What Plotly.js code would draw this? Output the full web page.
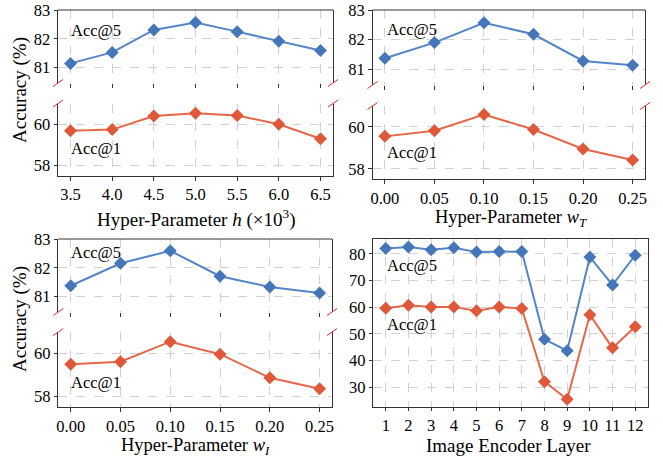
<!DOCTYPE html>
<html>
<head>
<meta charset="utf-8">
<script src="https://cdn.plot.ly/plotly-3.0.1.min.js"></script>
<style>html,body{margin:0;padding:0;background:#fff;}#chart{width:663px;height:457px;}</style>
</head>
<body>
<div id="chart"></div>
<script>
// ---- data ----
const hVals = [3.5, 4.0, 4.5, 5.0, 5.5, 6.0, 6.5];
const hAcc5 = [81.15, 81.53, 82.31, 82.57, 82.25, 81.92, 81.60];
const hAcc1 = [59.68, 59.74, 60.40, 60.53, 60.42, 60.00, 59.30];

const wVals = [0.00, 0.05, 0.10, 0.15, 0.20, 0.25];
const wTAcc5 = [81.37, 81.90, 82.57, 82.18, 81.28, 81.14];
const wTAcc1 = [59.55, 59.82, 60.59, 59.88, 58.95, 58.42];
const wIAcc5 = [81.38, 82.16, 82.59, 81.71, 81.34, 81.13];
const wIAcc1 = [59.50, 59.62, 60.55, 59.97, 58.87, 58.36];

const layers = [1, 2, 3, 4, 5, 6, 7, 8, 9, 10, 11, 12];
const layerAcc5 = [82.0, 82.6, 81.6, 82.3, 80.75, 80.9, 80.9, 47.9, 43.65, 78.8, 68.35, 79.5];
const layerAcc1 = [59.6, 60.7, 60.1, 60.1, 58.6, 60.1, 59.45, 32.0, 25.4, 57.1, 44.7, 52.6];

const hTicks = [3.5, 4.0, 4.5, 5.0, 5.5, 6.0, 6.5];
const wTicks = [0.00, 0.05, 0.10, 0.15, 0.20, 0.25];
const acc5Ticks = [81, 82, 83];
const acc1Ticks = [58, 60];
const layerYTicks = [30, 40, 50, 60, 70, 80];

// ---- style ----
const W = 663, H = 457;
const FONT = 'Liberation Serif';
const BLUE_L = '#5585c6', BLUE_M = '#4676ba';
const RED_L = '#e5674a', RED_M = '#e0583a';
const SPINE = '#333333';
function xd(a, b) { return [a / W, b / W]; }
function yd(top, bot) { return [1 - bot / H, 1 - top / H]; }

function baseAxis(extra) {
  return Object.assign({
    tickfont: {family: FONT, size: 16.5, color: '#000'},
    showgrid: true, gridcolor: '#d2d2d2', griddash: 'dash', gridwidth: 1,
    zeroline: false, ticks: 'outside', ticklen: 3.5, tickwidth: 1, tickcolor: SPINE,
    linecolor: SPINE, linewidth: 1, fixedrange: true
  }, extra);
}

const panels = [
  {xpx: [58, 333], top: [10, 83], bot: [103.5, 176], xs: hVals, a5: hAcc5, a1: hAcc1, ticks: hTicks, range: [3.35, 6.65], fmt: '.1f'},
  {xpx: [372.5, 645], top: [10, 85], bot: [106, 179.3], xs: wVals, a5: wTAcc5, a1: wTAcc1, ticks: wTicks, range: [-0.0125, 0.2625], fmt: '.2f'},
  {xpx: [58.3, 332], top: [239, 312], bot: [332, 407.3], xs: wVals, a5: wIAcc5, a1: wIAcc1, ticks: wTicks, range: [-0.0125, 0.2625], fmt: '.2f'}
];

const traces = [];
const layout = {
  width: W, height: H, margin: {l: 0, r: 0, t: 0, b: 0},
  paper_bgcolor: '#fff', plot_bgcolor: '#fff', showlegend: false,
  font: {family: FONT, color: '#000'},
  shapes: [], annotations: []
};

function trace(x, y, xa, ya, lc, mc) {
  return {x: x, y: y, xaxis: xa, yaxis: ya, type: 'scatter', mode: 'lines+markers',
    line: {color: lc, width: 2}, marker: {symbol: 'diamond', size: 10, color: mc},
    cliponaxis: false, hoverinfo: 'skip'};
}

panels.forEach((p, i) => {
  const nT = 2 * i + 1, nB = 2 * i + 2;
  const xT = 'x' + (nT === 1 ? '' : nT), yT = 'y' + (nT === 1 ? '' : nT);
  const xB = 'x' + nB, yB = 'y' + nB;
  traces.push(trace(p.xs, p.a5, xT, yT, BLUE_L, BLUE_M));
  traces.push(trace(p.xs, p.a1, xB, yB, RED_L, RED_M));
  const xkT = 'xaxis' + (nT === 1 ? '' : nT), ykT = 'yaxis' + (nT === 1 ? '' : nT);
  layout[xkT] = baseAxis({domain: xd(p.xpx[0], p.xpx[1]), anchor: yT, range: p.range,
    tickvals: p.ticks, showticklabels: false, showline: false});
  layout[ykT] = baseAxis({domain: yd(p.top[0], p.top[1]), anchor: xT, range: [80.47, 83],
    tickvals: acc5Ticks, showline: true, mirror: true});
  layout['xaxis' + nB] = baseAxis({domain: xd(p.xpx[0], p.xpx[1]), anchor: yB, range: p.range,
    tickvals: p.ticks, tickformat: p.fmt, showline: true, mirror: false});
  layout['yaxis' + nB] = baseAxis({domain: yd(p.bot[0], p.bot[1]), anchor: xB, range: [57.5, 61],
    tickvals: acc1Ticks, showline: true, mirror: true});
  layout.shapes.push({type: 'line', xref: xT + ' domain', yref: yT + ' domain', x0: 0, x1: 1, y0: 1, y1: 1,
    line: {color: SPINE, width: 1}});
  [[xT, yT, 0], [xB, yB, 1]].forEach(([xa, ya, yv]) => {
    [0, 1].forEach(xv => {
      layout.shapes.push({type: 'line', xref: xa + ' domain', yref: ya + ' domain',
        xsizemode: 'pixel', ysizemode: 'pixel', xanchor: xv, yanchor: yv,
        x0: -5, x1: 5, y0: -3.5, y1: 3.5, line: {color: '#e8262a', width: 1}});
    });
  });
});

// panel 4
traces.push(trace(layers, layerAcc5, 'x7', 'y7', BLUE_L, BLUE_M));
traces.push(trace(layers, layerAcc1, 'x7', 'y7', RED_L, RED_M));
layout.xaxis7 = baseAxis({domain: xd(373.3, 647.7), anchor: 'y7', range: [0.45, 12.55],
  tickvals: layers, showline: true, mirror: true});
layout.yaxis7 = baseAxis({domain: yd(239, 406.7), anchor: 'x7', range: [22.6, 85.6],
  tickvals: layerYTicks, showline: true, mirror: true});

function ann(text, x, y, size, opts) {
  layout.annotations.push(Object.assign({text: text, x: x / W, y: 1 - y / H, xref: 'paper', yref: 'paper',
    showarrow: false, font: {family: FONT, size: size, color: '#000'}, xanchor: 'center', yanchor: 'middle'}, opts || {}));
}
const accLabels = [[69, 30, 148], [385, 29, 152], [69, 252, 382], [385, 265, 324]];
accLabels.forEach(([x, y5, y1]) => {
  ann('Acc@5', x, y5, 16.5, {xanchor: 'left'});
  ann('Acc@1', x, y1, 16.5, {xanchor: 'left'});
});
ann('Accuracy (%)', 20, 90, 19, {textangle: -90});
ann('Accuracy (%)', 20, 319, 19, {textangle: -90});
ann('Hyper-Parameter <i>h</i> (×10<sup>3</sup>)', 196, 218, 19);
ann('Hyper-Parameter <i>w</i><sub><i>T</i></sub>', 511, 218, 18.5);
ann('Hyper-Parameter <i>w</i><sub><i>I</i></sub>', 195, 446, 18.5);
ann('Image Encoder Layer', 508, 445, 19);

Plotly.newPlot('chart', traces, layout, {staticPlot: true, displayModeBar: false});
</script>
</body>
</html>
